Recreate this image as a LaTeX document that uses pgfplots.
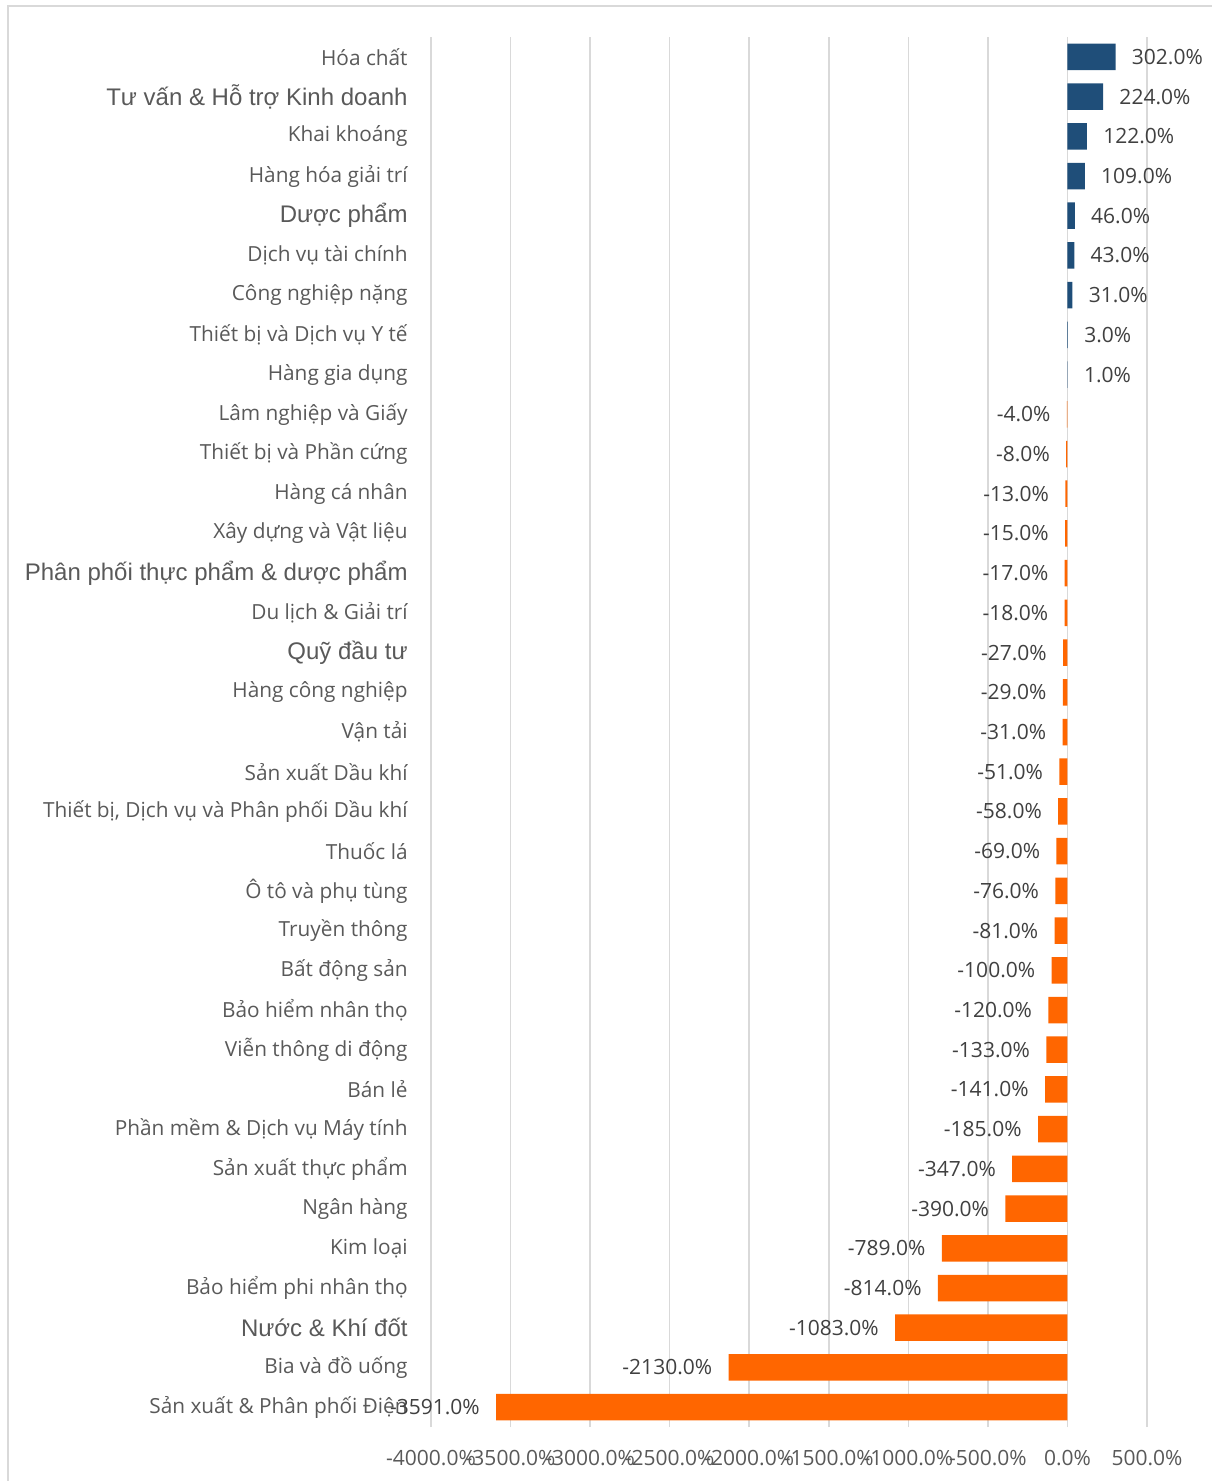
\documentclass[border=0pt]{standalone}
\usepackage{fontspec}
\setmainfont{Open Sans}
\newfontfamily\arialf{Liberation Sans}
\usepackage{pgfplots}
\usepackage{pgfplotstable}
\pgfplotsset{compat=1.18}
\definecolor{barblue}{HTML}{1F4E79}
\definecolor{barorange}{HTML}{FF6600}
\definecolor{gridgray}{HTML}{D9D9D9}
\definecolor{txtgray}{HTML}{595959}
\definecolor{lblgray}{HTML}{404040}

\pgfplotstableread{
y x lab
34 302 302.0
33 224 224.0
32 122 122.0
31 109 109.0
30 46 46.0
29 43 43.0
28 31 31.0
27 3 3.0
26 1 1.0
}\pos
\pgfplotstableread{
y x lab
25 -4 -4.0
24 -8 -8.0
23 -13 -13.0
22 -15 -15.0
21 -17 -17.0
20 -18 -18.0
19 -27 -27.0
18 -29 -29.0
17 -31 -31.0
16 -51 -51.0
15 -58 -58.0
14 -69 -69.0
13 -76 -76.0
12 -81 -81.0
11 -100 -100.0
10 -120 -120.0
9 -133 -133.0
8 -141 -141.0
7 -185 -185.0
6 -347 -347.0
5 -390 -390.0
4 -789 -789.0
3 -814 -814.0
2 -1083 -1083.0
1 -2130 -2130.0
0 -3591 -3591.0
}\negs

\newcommand{\arlbl}[1]{{\arialf\fontsize{12pt}{13pt}\selectfont #1}}

\begin{document}
\begin{tikzpicture}
\useasboundingbox (0,0) rectangle (605.5pt,-740.5pt);
\draw[gridgray, line width=0.8pt] (4pt,-800pt) -- (4pt,-3pt) -- (700pt,-3pt);
\begin{axis}[
  at={(215.5pt,-713.5pt)}, anchor=south west,
  scale only axis, width=358pt, height=695pt,
  xmin=-4000, xmax=500, ymin=-0.5, ymax=34.5,
  axis line style={draw=none},
  major tick length=0pt,
  xmajorgrids, grid style={gridgray, line width=0.8pt},
  xtick={-4000,-3500,-3000,-2500,-2000,-1500,-1000,-500,0,500},
  xticklabels={-4000.0\%,-3500.0\%,-3000.0\%,-2500.0\%,-2000.0\%,-1500.0\%,-1000.0\%,-500.0\%,0.0\%,500.0\%},
  xticklabel style={anchor=base, inner sep=0pt, yshift=-19pt, font=\fontsize{10.5pt}{12pt}\selectfont, text=txtgray},
  ytick={0,...,34},
  yticklabels={
    Sản xuất \& Phân phối Điện,
    Bia và đồ uống,
    \arlbl{Nước \& Khí đốt},
    Bảo hiểm phi nhân thọ,
    Kim loại,
    Ngân hàng,
    Sản xuất thực phẩm,
    Phần mềm \& Dịch vụ Máy tính,
    Bán lẻ,
    Viễn thông di động,
    Bảo hiểm nhân thọ,
    Bất động sản,
    Truyền thông,
    Ô tô và phụ tùng,
    Thuốc lá,
    {Thiết bị, Dịch vụ và Phân phối Dầu khí},
    Sản xuất Dầu khí,
    Vận tải,
    Hàng công nghiệp,
    \arlbl{Quỹ đầu tư},
    Du lịch \& Giải trí,
    \arlbl{Phân phối thực phẩm \& dược phẩm},
    Xây dựng và Vật liệu,
    Hàng cá nhân,
    Thiết bị và Phần cứng,
    Lâm nghiệp và Giấy,
    Hàng gia dụng,
    Thiết bị và Dịch vụ Y tế,
    Công nghiệp nặng,
    Dịch vụ tài chính,
    \arlbl{Dược phẩm},
    Hàng hóa giải trí,
    Khai khoáng,
    \arlbl{Tư vấn \& Hỗ trợ Kinh doanh},
    Hóa chất},
  yticklabel style={anchor=east, inner sep=0pt, xshift=-11.5pt, font=\fontsize{10.4pt}{12pt}\selectfont, text=txtgray},
  clip=false,
]
\addplot[xbar, bar width=13.25pt, bar shift=0pt, fill=barblue, draw=none,
  point meta=explicit symbolic,
  nodes near coords={\pgfplotspointmeta\%},
  nodes near coords style={anchor=west, inner sep=0pt, xshift=8pt, font=\fontsize{10.5pt}{12pt}\selectfont, text=lblgray}]
  table[x=x, y=y, meta=lab] {\pos};
\addplot[xbar, bar width=13.25pt, bar shift=0pt, fill=barorange, draw=none,
  point meta=explicit symbolic,
  nodes near coords={\pgfplotspointmeta\%},
  nodes near coords style={anchor=east, inner sep=0pt, xshift=-8pt, font=\fontsize{10.5pt}{12pt}\selectfont, text=lblgray}]
  table[x=x, y=y, meta=lab] {\negs};
\end{axis}
\end{tikzpicture}
\end{document}
